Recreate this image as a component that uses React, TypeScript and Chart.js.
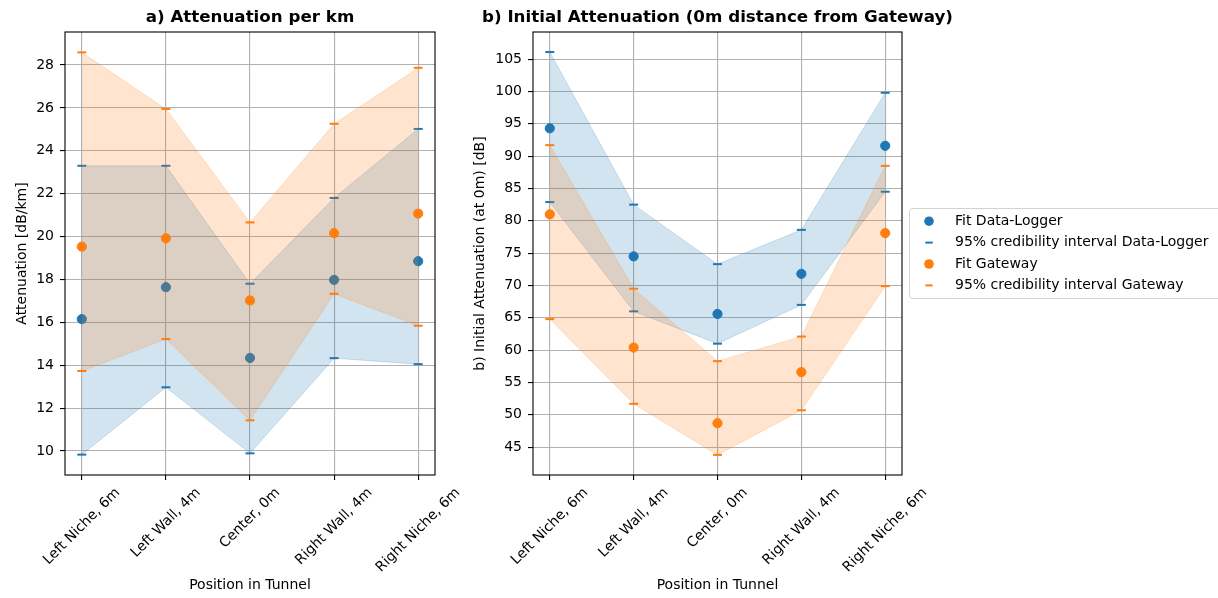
import React, { useEffect, useRef } from 'react';
import { Chart, registerables } from 'chart.js';

Chart.register(...registerables);

// ---------- data ----------
const positions = ['Left Niche, 6m', 'Left Wall, 4m', 'Center, 0m', 'Right Wall, 4m', 'Right Niche, 6m'];

// a) Attenuation per km [dB/km]
const perKmLoggerFit = [16.15, 17.64, 14.34, 17.98, 18.85];
const perKmLoggerUpper = [23.3, 23.3, 17.8, 21.8, 25.02];
const perKmLoggerLower = [9.83, 12.97, 9.89, 14.33, 14.05];
const perKmGatewayFit = [19.53, 19.92, 17.02, 20.16, 21.07];
const perKmGatewayUpper = [28.59, 25.95, 20.66, 25.26, 27.87];
const perKmGatewayLower = [13.73, 15.22, 11.43, 17.33, 15.84];

// b) Initial attenuation at 0m [dB]
const initLoggerFit = [94.3, 74.5, 65.6, 71.8, 91.6];
const initLoggerUpper = [106.1, 82.5, 73.3, 78.6, 99.8];
const initLoggerLower = [82.9, 66.0, 61.0, 67.0, 84.5];
const initGatewayFit = [81.0, 60.4, 48.7, 56.6, 78.1];
const initGatewayUpper = [91.7, 69.5, 58.3, 62.1, 88.5];
const initGatewayLower = [64.8, 51.7, 43.8, 50.7, 69.9];

const legendLabels = [
  'Fit Data-Logger',
  '95% credibility interval Data-Logger',
  'Fit Gateway',
  '95% credibility interval Gateway',
];

const titleA = 'a) Attenuation per km';
const titleB = 'b) Initial Attenuation (0m distance from Gateway)';
const yTitleA = 'Attenuation [dB/km]';
const yTitleB = 'b) Initial Attenuation (at 0m) [dB]';
const xTitle = 'Position in Tunnel';

// ---------- styles ----------
const BLUE = '#1f77b4';
const ORANGE = '#ff7f0e';
const BLUE_FILL = 'rgba(31,119,180,0.2)';
const ORANGE_FILL = 'rgba(255,127,14,0.2)';
const FONT = "'DejaVu Sans', sans-serif";

Chart.defaults.font.family = FONT;
Chart.defaults.color = '#000';

const pts = (arr: number[]) => arr.map((y, i) => ({ x: i, y }));

function makeDatasets(lf: number[], lu: number[], ll: number[], gf: number[], gu: number[], gl: number[]) {
  const fit = (label: string, data: number[], color: string, order: number) => ({
    label,
    data: pts(data),
    showLine: false,
    pointRadius: 4.6,
    pointHoverRadius: 4.6,
    pointBackgroundColor: color,
    pointBorderColor: color,
    pointBorderWidth: 1,
    order,
  });
  const band = (label: string, data: number[], color: string, fillColor: string, fill: any, order: number) => ({
    label,
    data: pts(data),
    borderColor: fillColor,
    borderWidth: 1,
    backgroundColor: fillColor,
    fill,
    tension: 0,
    pointStyle: 'line',
    pointRadius: 4.5,
    pointHoverRadius: 4.5,
    pointBorderColor: color,
    pointBackgroundColor: color,
    pointBorderWidth: 2,
    order,
  });
  return [
    fit(legendLabels[0], lf, BLUE, 6),
    band(legendLabels[1], lu, BLUE, BLUE_FILL, '+1', 5),
    band(legendLabels[1], ll, BLUE, BLUE_FILL, false, 5),
    fit(legendLabels[2], gf, ORANGE, 3),
    band(legendLabels[3], gu, ORANGE, ORANGE_FILL, '+1', 2),
    band(legendLabels[3], gl, ORANGE, ORANGE_FILL, false, 2),
  ];
}

function decorPlugin(title: string, withLegend: boolean) {
  return {
    id: 'decor',
    afterDraw(chart: any) {
      const { ctx, chartArea: a, scales } = chart;
      ctx.save();
      // spines
      ctx.strokeStyle = '#000';
      ctx.lineWidth = 1.1;
      ctx.strokeRect(a.left, a.top, a.right - a.left, a.bottom - a.top);
      // title
      ctx.fillStyle = '#000';
      ctx.font = `bold 16.7px ${FONT}`;
      ctx.textAlign = 'center';
      ctx.textBaseline = 'alphabetic';
      ctx.fillText(title, (a.left + a.right) / 2, a.top - 10);
      // rotated x tick labels (centered like matplotlib)
      ctx.font = `14px ${FONT}`;
      positions.forEach((lab, i) => {
        const x = scales.x.getPixelForValue(i);
        const w = ctx.measureText(lab).width;
        const h = 16.3;
        const side = (w + h) * Math.SQRT1_2;
        const cy = a.bottom + 9.7 + side / 2;
        ctx.save();
        ctx.translate(x, cy);
        ctx.rotate(-Math.PI / 4);
        ctx.textAlign = 'center';
        ctx.textBaseline = 'middle';
        ctx.fillText(lab, 0, 0);
        ctx.restore();
      });
      // legend
      if (withLegend) {
        const x0 = a.right + 7.5;
        const boxH = 90;
        const y0 = (a.top + a.bottom) / 2 - boxH / 2;
        ctx.beginPath();
        if (ctx.roundRect) ctx.roundRect(x0, y0, 340, boxH, 3);
        else ctx.rect(x0, y0, 340, boxH);
        ctx.fillStyle = '#fff';
        ctx.fill();
        ctx.strokeStyle = '#d3d3d3';
        ctx.lineWidth = 1;
        ctx.stroke();
        const colors = [BLUE, BLUE, ORANGE, ORANGE];
        legendLabels.forEach((lab, i) => {
          const y = y0 + 12.7 + i * 21.4;
          const mx = a.right + 27;
          if (i % 2 === 0) {
            ctx.beginPath();
            ctx.arc(mx, y, 4.8, 0, Math.PI * 2);
            ctx.fillStyle = colors[i];
            ctx.fill();
          } else {
            ctx.beginPath();
            ctx.moveTo(mx - 3.7, y);
            ctx.lineTo(mx + 3.7, y);
            ctx.strokeStyle = colors[i];
            ctx.lineWidth = 2;
            ctx.stroke();
          }
          ctx.fillStyle = '#000';
          ctx.font = `14px ${FONT}`;
          ctx.textAlign = 'left';
          ctx.textBaseline = 'middle';
          ctx.fillText(lab, a.right + 53, y);
        });
      }
      ctx.restore();
    },
  };
}

function makeConfig(opts: {
  title: string;
  yTitle: string;
  yMin: number;
  yMax: number;
  step: number;
  yWidth: number;
  padRight: number;
  yTitlePad: number;
  legend: boolean;
  data: number[][];
}): any {
  const grid = { color: '#b0b0b0', lineWidth: 1.1, tickColor: '#000', tickLength: 5 };
  return {
    type: 'line',
    data: { datasets: makeDatasets(...(opts.data as [number[], number[], number[], number[], number[], number[]])) },
    options: {
      responsive: false,
      animation: false,
      devicePixelRatio: 1,
      events: [],
      layout: { padding: { top: 32, left: 0, right: opts.padRight, bottom: 0 } },
      plugins: {
        legend: { display: false },
        tooltip: { enabled: false },
        title: { display: false },
      },
      scales: {
        x: {
          type: 'linear',
          z: 1,
          min: -0.2,
          max: 4.2,
          afterBuildTicks: (s: any) => {
            s.ticks = positions.map((_, i) => ({ value: i }));
          },
          afterFit: (s: any) => {
            s.height = 123;
          },
          ticks: { display: false },
          grid,
          border: { display: false },
          title: {
            display: true,
            text: xTitle,
            color: '#000',
            font: { size: 14, family: FONT },
            padding: { top: 0, bottom: 4 },
          },
        },
        y: {
          type: 'linear',
          z: 1,
          min: opts.yMin,
          max: opts.yMax,
          afterFit: (s: any) => {
            s.width = opts.yWidth;
          },
          ticks: {
            stepSize: opts.step,
            includeBounds: false,
            color: '#000',
            padding: 6,
            font: { size: 14, family: FONT },
          },
          grid,
          border: { display: false },
          title: {
            display: true,
            text: opts.yTitle,
            color: '#000',
            font: { size: 14, family: FONT },
            padding: { top: opts.yTitlePad, bottom: 0 },
          },
        },
      },
    },
    plugins: [decorPlugin(opts.title, opts.legend)],
  };
}

export default function App() {
  const leftRef = useRef<HTMLCanvasElement>(null);
  const rightRef = useRef<HTMLCanvasElement>(null);

  useEffect(() => {
    const c1 = new Chart(
      leftRef.current as HTMLCanvasElement,
      makeConfig({
        title: titleA,
        yTitle: yTitleA,
        yMin: 8.88,
        yMax: 29.54,
        step: 2,
        yWidth: 65,
        padRight: 25,
        yTitlePad: 13.6,
        legend: false,
        data: [perKmLoggerFit, perKmLoggerUpper, perKmLoggerLower, perKmGatewayFit, perKmGatewayUpper, perKmGatewayLower],
      })
    );
    const c2 = new Chart(
      rightRef.current as HTMLCanvasElement,
      makeConfig({
        title: titleB,
        yTitle: yTitleB,
        yMin: 40.69,
        yMax: 109.2,
        step: 5,
        yWidth: 73,
        padRight: 316,
        yTitlePad: 12,
        legend: true,
        data: [initLoggerFit, initLoggerUpper, initLoggerLower, initGatewayFit, initGatewayUpper, initGatewayLower],
      })
    );
    return () => {
      c1.destroy();
      c2.destroy();
    };
  }, []);

  return (
    <div style={{ position: 'fixed', left: 0, top: 0, width: 1218, height: 598, background: '#fff', overflow: 'hidden' }}>
      <canvas
        ref={leftRef}
        width={460}
        height={598}
        style={{ position: 'absolute', left: 0, top: 0, width: 460, height: 598, display: 'block' }}
      />
      <canvas
        ref={rightRef}
        width={758}
        height={598}
        style={{ position: 'absolute', left: 460, top: 0, width: 758, height: 598, display: 'block' }}
      />
    </div>
  );
}
